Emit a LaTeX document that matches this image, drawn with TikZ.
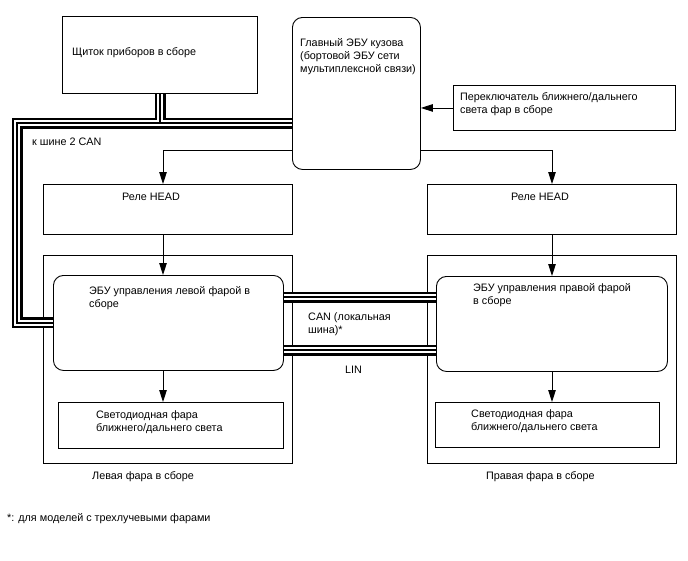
\documentclass[tikz,border=0pt]{standalone}
\usepackage{fontspec}
\setmainfont{Liberation Sans}
\usetikzlibrary{arrows.meta, positioning, calc}

\begin{document}
\begin{tikzpicture}[
  x=1pt, y=-1pt,
  font=\fontsize{10.8}{13}\selectfont,
  blk/.style={rectangle, draw, line width=0.9pt, anchor=north west, inner sep=0pt},
  ecu/.style={blk, rounded corners=10pt},
  txt/.style={anchor=north west, align=left, inner sep=0pt},
  arr/.style={-{Triangle[length=12pt, width=7.5pt]}, line width=0.9pt},
  bus/.style={draw, line width=1.2pt, line join=miter,
    preaction={draw, line width=11pt},
    preaction={draw=white, line width=5.8pt}}
]
\useasboundingbox (0,0) rectangle (688,560);

\node[blk, minimum width=249pt, minimum height=208pt] (lhead) at (43,255) {};
\node[blk, minimum width=249pt, minimum height=208pt] (rhead) at (427,255) {};

\node[blk, minimum width=195pt, minimum height=77pt] (shitok) at (62,16) {};
\node[ecu, minimum width=128pt, minimum height=152pt] (main) at (292,17) {};
\node[blk, minimum width=222pt, minimum height=45pt] (sw) at (453,85) {};
\node[blk, minimum width=249pt, minimum height=50pt] (lrel) at (43,184) {};
\node[blk, minimum width=249pt, minimum height=50pt] (rrel) at (427,184) {};
\node[ecu, minimum width=230pt, minimum height=95pt] (lecu) at (53,275) {};
\node[ecu, minimum width=231pt, minimum height=95pt] (recu) at (436,276) {};
\node[blk, minimum width=225pt, minimum height=46pt] (lled) at (58,402) {};
\node[blk, minimum width=224pt, minimum height=45pt] (rled) at (435,402) {};

\node[txt] (shitokt) at ([shift={(10,31)}]shitok.north west) {Щиток приборов в сборе};
\node[txt] (maint) at ([shift={(8,21)}]main.north west)
  {Главный ЭБУ кузова\\(бортовой ЭБУ сети\\мультиплексной связи)};
\node[txt] (swt) at ([shift={(7,7)}]sw.north west)
  {Переключатель ближнего/дальнего\\света фар в сборе};
\node[txt] (lrelt) at ([shift={(79,9)}]lrel.north west) {Реле HEAD};
\node[txt] (rrelt) at ([shift={(84,9)}]rrel.north west) {Реле HEAD};
\node[txt] (lecut) at ([shift={(36,11)}]lecu.north west)
  {ЭБУ управления левой фарой в\\сборе};
\node[txt] (recut) at ([shift={(37,7)}]recu.north west)
  {ЭБУ управления правой фарой\\в сборе};
\node[txt] (lledt) at ([shift={(38,8)}]lled.north west)
  {Светодиодная фара\\ближнего/дальнего света};
\node[txt] (rledt) at ([shift={(36,7)}]rled.north west)
  {Светодиодная фара\\ближнего/дальнего света};
\node[txt] (lheadt) at ([shift={(49,7)}]lhead.south west) {Левая фара в сборе};
\node[txt] (rheadt) at ([shift={(59,7)}]rhead.south west) {Правая фара в сборе};

\coordinate (lbus) at (160,123);
\coordinate (cbend) at (17,123);
\coordinate (canc) at (360,297);
\coordinate (linc) at (360,350);
\coordinate (lturn) at (163,150);
\coordinate (rturn) at (552,150);

\draw[bus] (lbus |- shitok.south) -- (lbus)
  (main.west |- lbus) -- (cbend) -- (cbend |- lecu.west) -- (lecu.west);
\draw[bus] (lecu.east |- canc) -- (recu.west |- canc);
\draw[bus] (lecu.east |- linc) -- (recu.west |- linc);

\node[txt] (c2t) at (32,138) {к шине 2 CAN};
\node[txt] (cant) at (308,312) {CAN (локальная\\шина)*};
\node[txt] (lint) at (345,366) {LIN};
\node[txt] (notet) at (7,513) {*: для моделей с трехлучевыми фарами};

\draw[arr] (sw.west) -- (sw.west -| main.east);
\draw[arr] (main.west |- lturn) -- (lturn) -- (lturn |- lrel.north);
\draw[arr] (main.east |- rturn) -- (rturn) -- (rturn |- rrel.north);
\draw[arr] (lturn |- lrel.south) -- (lturn |- lecu.north);
\draw[arr] (rturn |- rrel.south) -- (rturn |- recu.north);
\draw[arr] (lturn |- lecu.south) -- (lturn |- lled.north);
\draw[arr] (rturn |- recu.south) -- (rturn |- rled.north);
\end{tikzpicture}
\end{document}
